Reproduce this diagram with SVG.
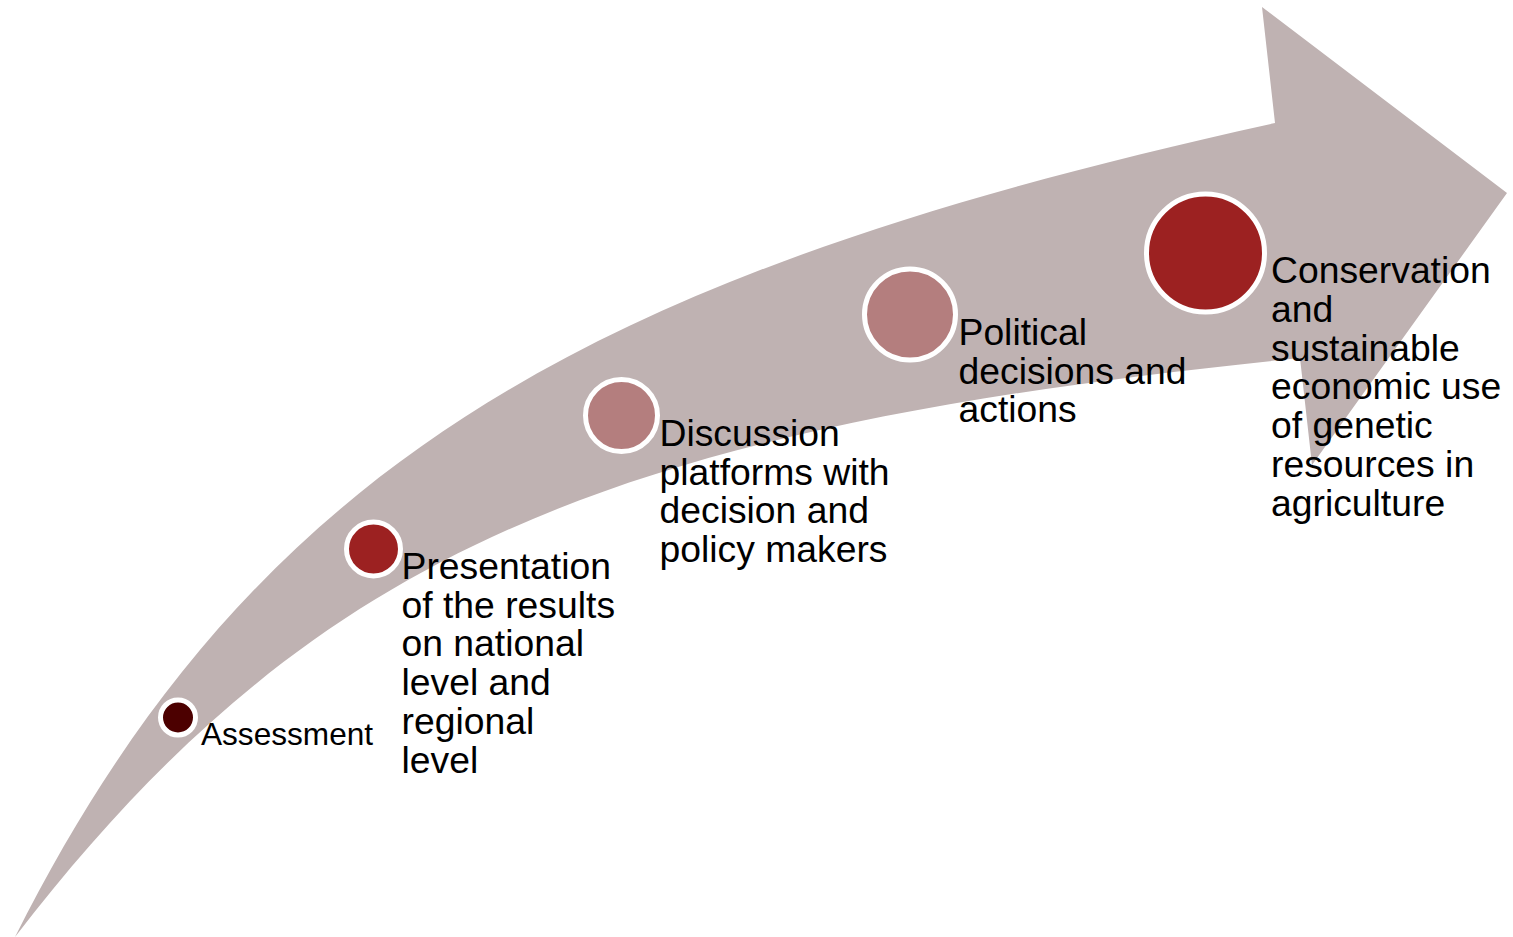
<svg xmlns="http://www.w3.org/2000/svg" width="1513" height="937" viewBox="0 0 1513 937">
  <style>
    .ring { stroke: #FFFFFF; stroke-width: 5; }
    .dark { fill: #4C0000; }
    .red { fill: #9C2121; }
    .pink { fill: #B47E7E; }
    .lbl { font-family: "Liberation Sans", Arial, sans-serif; fill: #000000; font-size: 37.3px; }
    .small { font-size: 31.6px; }
  </style>
  <rect x="0" y="0" width="1513" height="937" fill="#FFFFFF"/>
  <g id="connectors">
    <path id="arrow" fill="#BFB2B2" d="M15,937 C257,455 604,271 1275,123 L1262,7 L1507,193 L1312,465 L1300,358 C617,427 315,547 15,937 Z"/>
  </g>
  <g id="node-assessment">
    <circle class="ring dark" cx="178" cy="717.5" r="17.5"/>
    <text class="lbl small" x="201" y="745">Assessment</text>
  </g>
  <g id="node-presentation">
    <circle class="ring red" cx="373.5" cy="549" r="27"/>
    <text class="lbl" x="401.5">
      <tspan x="401.5" y="579">Presentation</tspan>
      <tspan x="401.5" y="617.7">of the results</tspan>
      <tspan x="401.5" y="656.4">on national</tspan>
      <tspan x="401.5" y="695.1">level and</tspan>
      <tspan x="401.5" y="733.8">regional</tspan>
      <tspan x="401.5" y="772.5">level</tspan>
    </text>
  </g>
  <g id="node-discussion">
    <circle class="ring pink" cx="621.5" cy="415.5" r="36"/>
    <text class="lbl" x="659.5">
      <tspan x="659.5" y="446">Discussion</tspan>
      <tspan x="659.5" y="484.7">platforms with</tspan>
      <tspan x="659.5" y="523.4">decision and</tspan>
      <tspan x="659.5" y="562.1">policy makers</tspan>
    </text>
  </g>
  <g id="node-political">
    <circle class="ring pink" cx="910" cy="314.5" r="45.5"/>
    <text class="lbl" x="958.5">
      <tspan x="958.5" y="345">Political</tspan>
      <tspan x="958.5" y="383.7">decisions and</tspan>
      <tspan x="958.5" y="422.4">actions</tspan>
    </text>
  </g>
  <g id="node-conservation">
    <circle class="ring red" cx="1205.5" cy="253" r="59"/>
    <text class="lbl" x="1271">
      <tspan x="1271" y="283.3">Conservation</tspan>
      <tspan x="1271" y="322">and</tspan>
      <tspan x="1271" y="360.7">sustainable</tspan>
      <tspan x="1271" y="399.4">economic use</tspan>
      <tspan x="1271" y="438.1">of genetic</tspan>
      <tspan x="1271" y="476.8">resources in</tspan>
      <tspan x="1271" y="515.5">agriculture</tspan>
    </text>
  </g>
</svg>
